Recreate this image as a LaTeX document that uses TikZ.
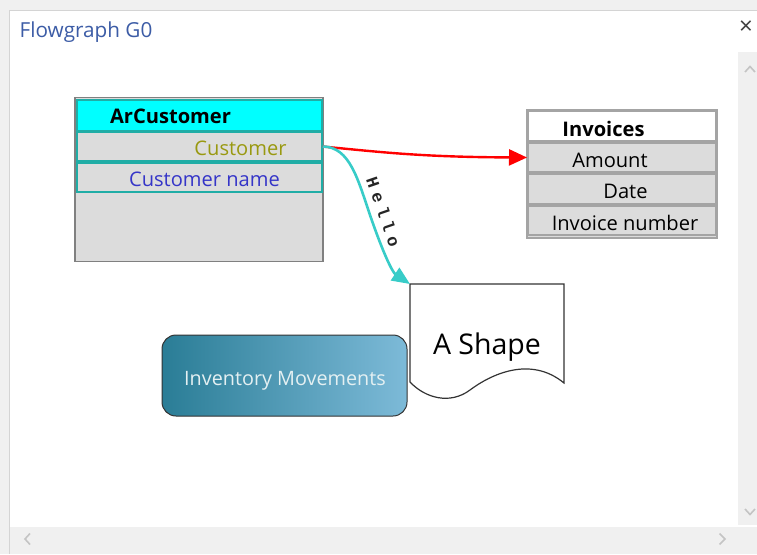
\documentclass[tikz,border=0pt]{standalone}
\usepackage{fontspec}
\setmainfont{Open Sans}
\newfontfamily\monofont{Liberation Mono}
\usetikzlibrary{arrows.meta}
\definecolor{bgGray}{HTML}{F0F0F0}
\definecolor{panelLine}{HTML}{D4D4D4}
\definecolor{titleBlue}{HTML}{3C5CA6}
\definecolor{chev}{HTML}{C4C4C4}
\definecolor{cellGray}{HTML}{DCDCDC}
\definecolor{tealLine}{HTML}{20ADA6}
\definecolor{hdrCyan}{RGB}{0,255,255}
\definecolor{outerGray}{HTML}{808080}
\definecolor{invGray}{HTML}{A4A4A4}
\definecolor{olive}{HTML}{999910}
\definecolor{nameBlue}{HTML}{3535C8}
\definecolor{linkTeal}{HTML}{38CCC8}
\definecolor{invLeft}{HTML}{2A7D96}
\definecolor{invRight}{HTML}{7DBAD8}
\definecolor{invText}{HTML}{E4F0F2}
\newcommand{\fsrow}{\fontsize{20.1}{22}\selectfont}
\newcommand{\hch}[1]{\makebox[15.6pt]{#1}}
\tikzset{
  arcrow/.style={draw=tealLine, line width=2pt, fill=cellGray, inner sep=0pt, minimum width=245pt},
  txt/.style={inner sep=0pt, font=\fsrow},
  chevron/.style={draw=chev, line width=1.6pt},
  invrow/.style={draw=invGray, line width=2pt, fill=cellGray, inner sep=0pt, minimum width=188pt, minimum height=29.5pt},
}
\begin{document}
\begin{tikzpicture}[x=1pt,y=-1pt]
\useasboundingbox (0,0) rectangle (757,554);
% window chrome
\fill[bgGray] (0,0) rectangle (757,554);
\fill[white] (10,10) rectangle (757,527);
\draw[panelLine, line width=1pt] (9.5,554) -- (9.5,10.5) -- (757,10.5);
\fill[bgGray] (738,52) rectangle (757,525);
\fill[bgGray] (13,527) rectangle (757,553);
\draw[chevron] (745,72) -- (750,66.5) -- (755,72);
\draw[chevron] (745,509) -- (750,514.5) -- (755,509);
\draw[chevron] (30,533.5) -- (25,539) -- (30,544.5);
\draw[chevron] (719.5,533.5) -- (725,539) -- (719.5,544.5);
\node[anchor=base west, inner sep=0pt, font=\fontsize{20.7}{22}\selectfont, text=titleBlue] (title) at (19.5,37) {Flowgraph G0};
\node[inner sep=0pt, font=\fontsize{24}{24}\selectfont, text=black!75] (close) at (746,28) {×};

% ArCustomer table
\node[draw=outerGray, line width=1.5pt, fill=cellGray, inner sep=0pt, minimum width=248pt, minimum height=164pt] (arc) at (199,179.5) {};
\node[draw=tealLine, line width=2pt, fill=hdrCyan, inner sep=0pt, minimum width=245pt, minimum height=31pt] (archead) at (199,115.5) {};
\node[arcrow, minimum height=29pt] (cust) at (199,146.5) {};
\node[arcrow, minimum height=29pt] (custname) at (199,177.5) {};
\node[txt, font=\fsrow\bfseries] (arctxt) at (170.5,116) {ArCustomer};
\node[txt, text=olive] (custtxt) at (240.5,148) {Customer};
\node[txt, text=nameBlue] (custnametxt) at (204.5,179) {Customer name};

% Invoices table
\node[draw=invGray, line width=2.5pt, fill=cellGray, inner sep=0pt, minimum width=190pt, minimum height=128pt] (inv) at (622,174) {};
\node[invrow, fill=white] (invhead) at (622,126) {};
\node[invrow] (amount) at (622,157.5) {};
\node[invrow] (date) at (622,189) {};
\node[invrow] (invnum) at (622,220.5) {};
\node[txt, font=\fsrow\bfseries] (invtxt) at (603.5,128.5) {Invoices};
\node[txt] (amounttxt) at (610,160) {Amount};
\node[txt] (datetxt) at (625.5,191.5) {Date};
\node[txt] (invnumtxt) at (625,223) {Invoice number};

% Document shape
\coordinate (docnw) at (410,284);
\coordinate (docne) at (564,284);
\draw[black!80, line width=1.2pt, fill=white] (docnw) -- (docne) -- (564,383)
  .. controls (530,355) and (490,375) .. (470,390)
  .. controls (450,405) and (425,398) .. (410,382) -- cycle;
\node[anchor=base, inner sep=0pt, font=\fontsize{28.5}{30}\selectfont] (doc) at (487,354) {A Shape};

% Inventory Movements
\node[draw=black!80, line width=1pt, rounded corners=14pt, left color=invLeft, right color=invRight,
      minimum width=245pt, minimum height=81pt, inner sep=0pt] (invmov) at (284.5,375.5) {};
\node[anchor=base, inner sep=0pt, text=invText, font=\fontsize{19.8}{22}\selectfont] (invmovtxt) at (285,385) {Inventory Movements};

% connectors
\draw[red, line width=2.4pt, -{Triangle[length=18pt,width=16pt]}] (cust.east)
  .. controls (380,152) and (420,157) .. (amount.west);
\draw[linkTeal, line width=2.6pt, -{Triangle[length=18pt,width=15pt]}] (cust.east)
  .. controls (350,146.5) and (358,180) .. (370,215)
  .. controls (382,250) and (392,272) .. (docnw);
\node[inner sep=0pt, rotate=-71, font=\monofont\bfseries\fontsize{17}{18}\selectfont, text=black!85] (hello) at (383.5,212)
  {\hch{H}\hch{e}\hch{l}\hch{l}\hch{o}};
\end{tikzpicture}
\end{document}
